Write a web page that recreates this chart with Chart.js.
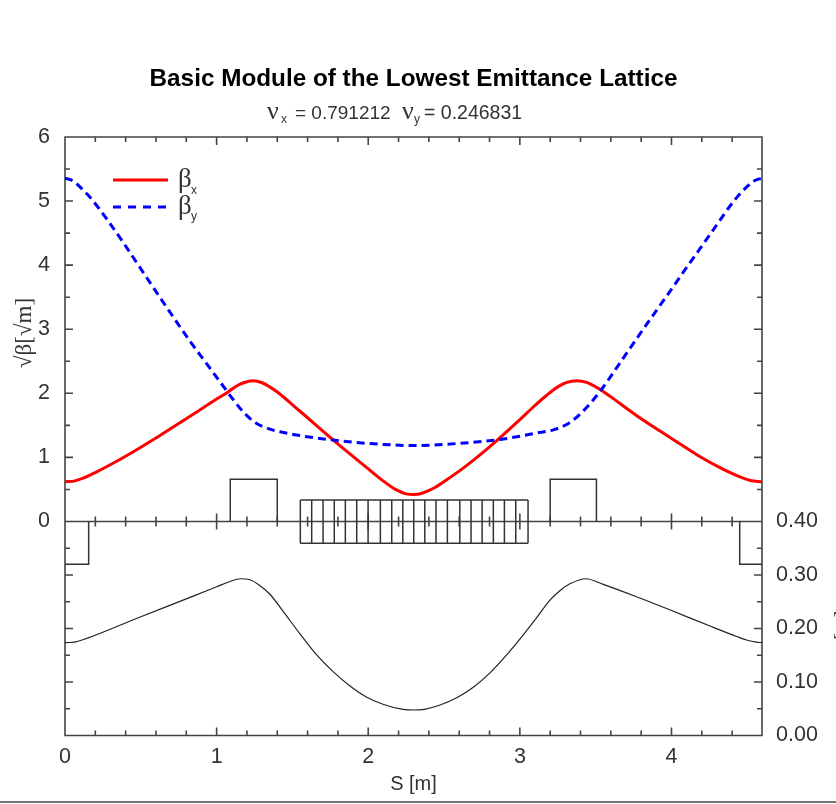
<!DOCTYPE html>
<html>
<head>
<meta charset="utf-8">
<title>Basic Module of the Lowest Emittance Lattice</title>
<script src="https://cdn.jsdelivr.net/npm/chart.js@4/dist/chart.umd.min.js"></script>
<style>
  html, body { margin: 0; padding: 0; background: #fff; }
  #wrap { width: 836px; height: 804px; }
</style>
</head>
<body>
<div id="wrap"><canvas id="latticeChart" width="836" height="804"></canvas></div>
<script>
// Curves: s in metres, sqrt(beta) in sqrt(m), eta in m
const betaXS = [0, 0.06, 0.12, 0.209, 0.341, 0.473, 0.605, 0.737, 0.869, 1.0, 1.08, 1.14, 1.2, 1.24, 1.3, 1.35, 1.4, 1.55, 1.77, 1.99, 2.1, 2.18, 2.25, 2.3, 2.36, 2.44, 2.518, 2.65, 2.825, 3.0, 3.09, 3.177, 3.25, 3.31, 3.375, 3.44, 3.5, 3.55, 3.661, 3.793, 3.925, 4.057, 4.189, 4.32, 4.452, 4.52, 4.597];
const betaXValues = [0.62, 0.63, 0.675, 0.775, 0.94, 1.12, 1.31, 1.51, 1.71, 1.91, 2.03, 2.125, 2.18, 2.195, 2.165, 2.1, 2.02, 1.72, 1.27, 0.84, 0.63, 0.5, 0.43, 0.42, 0.445, 0.53, 0.65, 0.875, 1.215, 1.59, 1.79, 1.97, 2.1, 2.17, 2.195, 2.17, 2.1, 2.03, 1.84, 1.615, 1.41, 1.21, 1.01, 0.84, 0.695, 0.64, 0.62];

const betaYS = [0, 0.04, 0.077, 0.12, 0.165, 0.275, 0.385, 0.495, 0.605, 0.714, 0.825, 0.935, 1.044, 1.11, 1.187, 1.264, 1.352, 1.418, 1.55, 1.77, 1.99, 2.298, 2.606, 2.87, 3.133, 3.221, 3.32, 3.408, 3.529, 3.639, 3.749, 3.858, 3.969, 4.078, 4.189, 4.299, 4.408, 4.496, 4.55, 4.597];
const betaYValues = [5.356, 5.33, 5.27, 5.17, 5.06, 4.72, 4.35, 3.96, 3.57, 3.19, 2.81, 2.46, 2.11, 1.9, 1.68, 1.53, 1.44, 1.4, 1.34, 1.27, 1.22, 1.185, 1.22, 1.28, 1.39, 1.43, 1.53, 1.7, 2.03, 2.4, 2.78, 3.15, 3.52, 3.89, 4.26, 4.63, 4.99, 5.22, 5.32, 5.356];

const etaS = [0, 0.07, 0.139, 0.5, 0.85, 1.0, 1.08, 1.16, 1.22, 1.28, 1.352, 1.44, 1.55, 1.66, 1.77, 1.88, 1.987, 2.097, 2.229, 2.3, 2.37, 2.474, 2.584, 2.693, 2.803, 2.913, 3.0, 3.11, 3.2, 3.27, 3.33, 3.435, 3.55, 3.8, 3.993, 4.25, 4.43, 4.5, 4.56, 4.597];
const etaValues = [0.1735, 0.175, 0.181, 0.222, 0.261, 0.278, 0.287, 0.293, 0.291, 0.2815, 0.264, 0.2314, 0.19, 0.1505, 0.119, 0.0925, 0.072, 0.0585, 0.049, 0.0477, 0.049, 0.057, 0.0705, 0.09, 0.117, 0.1505, 0.18, 0.22, 0.2535, 0.272, 0.2835, 0.293, 0.2825, 0.256, 0.2345, 0.205, 0.185, 0.178, 0.1745, 0.1735];

// Lattice elements
const bendLeftS = [1.09, 1.09, 1.40, 1.40];
const bendRightS = [3.2, 3.2, 3.505, 3.505];
const bendHeight = [0, 0.66, 0.66, 0];
const quadLeftS = [0, 0.156, 0.156];
const quadLeftHeight = [-0.668, -0.668, 0];
const quadRightS = [4.45, 4.45, 4.597];
const quadRightHeight = [0, -0.668, -0.668];
const sectorEdges = [1.552, 1.627, 1.702, 1.776, 1.849, 1.924, 1.999, 2.08, 2.155, 2.228, 2.3, 2.373, 2.447, 2.522, 2.604, 2.678, 2.751, 2.825, 2.898, 2.973, 3.054];
const sectorTop = 0.335;
const sectorBottom = -0.34;

// Axis ticks
const sMax = 4.597;
const sTicks = [0, 1, 2, 3, 4];
const sMinorTicks = [0.2, 0.4, 0.6, 0.8, 1.2, 1.4, 1.6, 1.8, 2.2, 2.4, 2.6, 2.8, 3.2, 3.4, 3.6, 3.8, 4.2, 4.4];
const betaTicks = [0, 1, 2, 3, 4, 5, 6];
const betaMinorTicks = [0.5, 1.5, 2.5, 3.5, 4.5, 5.5];
const etaTicks = [0, 0.1, 0.2, 0.3, 0.4];
const etaMinorTicks = [0.05, 0.15, 0.25, 0.35];

const AXIS_COLOR = '#444';
const TEXT_COLOR = '#333';
const SANS = '"Liberation Sans", Arial, sans-serif';
const SERIF = '"Liberation Serif", "Times New Roman", serif';

const toPoints = (xs, ys) => xs.map((x, i) => ({ x: x, y: ys[i] }));

// The sector magnet is one outline with a divider at every edge
function sectorPoints() {
    const pts = [];
    sectorEdges.forEach(function (s) {
        pts.push({ x: s, y: sectorTop }, { x: s, y: sectorBottom }, { x: s, y: null });
    });
    const first = sectorEdges[0];
    const last = sectorEdges[sectorEdges.length - 1];
    pts.push({ x: first, y: sectorTop }, { x: last, y: sectorTop }, { x: last, y: null });
    pts.push({ x: first, y: sectorBottom }, { x: last, y: sectorBottom });
    return pts;
}

function outline(points) {
    return {
        data: points,
        yAxisID: 'y',
        borderColor: '#333',
        borderWidth: 1.5,
        pointRadius: 0,
        tension: 0,
        spanGaps: false
    };
}

function drawText(c, text, x, y, font, color) {
    c.font = font;
    c.fillStyle = color || TEXT_COLOR;
    c.fillText(text, x, y);
}

// Inward tick marks on the frame and the crossing ticks on the middle axis
const latticeFrame = {
    id: 'latticeFrame',
    beforeDatasetsDraw(chart) {
        const c = chart.ctx;
        const a = chart.chartArea;
        const sx = chart.scales.x, by = chart.scales.y, ey = chart.scales.y2;
        const mid = by.getPixelForValue(0);
        c.save();
        c.strokeStyle = AXIS_COLOR;
        c.lineWidth = 1.6;
        c.beginPath();
        c.rect(a.left, a.top, a.right - a.left, a.bottom - a.top);
        c.moveTo(a.left, mid);
        c.lineTo(a.right, mid);

        const vTick = function (v, len) {
            const p = sx.getPixelForValue(v);
            c.moveTo(p, a.top); c.lineTo(p, a.top + len);
            c.moveTo(p, a.bottom); c.lineTo(p, a.bottom - len);
            c.moveTo(p, mid - len); c.lineTo(p, mid + len);
        };
        sTicks.forEach(v => vTick(v, 8));
        sMinorTicks.forEach(v => vTick(v, 5));

        const hTick = function (p, len) {
            c.moveTo(a.left, p); c.lineTo(a.left + len, p);
            c.moveTo(a.right, p); c.lineTo(a.right - len, p);
        };
        betaTicks.forEach(v => hTick(by.getPixelForValue(v), 8));
        betaMinorTicks.forEach(v => hTick(by.getPixelForValue(v), 5));
        etaTicks.forEach(v => hTick(ey.getPixelForValue(v), 8));
        etaMinorTicks.forEach(v => hTick(ey.getPixelForValue(v), 5));
        c.stroke();
        c.restore();
    },
    afterDraw(chart) {
        const c = chart.ctx;
        c.save();
        c.textBaseline = 'alphabetic';
        c.textAlign = 'left';

        // tunes under the title
        drawText(c, 'ν', 267, 119, '26px ' + SERIF);
        drawText(c, 'x', 281, 123, '12px ' + SANS);
        drawText(c, '= 0.791212', 295, 119, '19px ' + SANS);
        drawText(c, 'ν', 402, 119, '26px ' + SERIF);
        drawText(c, 'y', 414, 123, '12px ' + SANS);
        drawText(c, '= 0.246831', 424, 119, '19.5px ' + SANS);

        // legend
        c.lineWidth = 3;
        c.strokeStyle = '#ff0000';
        c.beginPath(); c.moveTo(113, 180); c.lineTo(168, 180); c.stroke();
        c.strokeStyle = '#0000ff';
        c.setLineDash([8, 7]);
        c.beginPath(); c.moveTo(113, 207); c.lineTo(168, 207); c.stroke();
        c.setLineDash([]);
        drawText(c, 'β', 178, 187, '27px ' + SERIF);
        drawText(c, 'x', 191, 194, '12px ' + SANS);
        drawText(c, 'β', 178, 214, '27px ' + SERIF);
        drawText(c, 'y', 191, 220, '12px ' + SANS);

        // left axis title, and the right one that runs off the page
        c.save();
        c.translate(31, 333);
        c.rotate(-Math.PI / 2);
        c.textAlign = 'center';
        drawText(c, '√β[√m]', 0, 0, '23px ' + SERIF);
        c.restore();
        c.save();
        c.translate(848, 633);
        c.rotate(-Math.PI / 2);
        c.textAlign = 'center';
        drawText(c, 'η [m]', 0, 0, '20px ' + SERIF);
        c.restore();

        // page rule along the bottom
        c.strokeStyle = AXIS_COLOR;
        c.lineWidth = 1.5;
        c.beginPath(); c.moveTo(0, 802); c.lineTo(836, 802); c.stroke();
        c.restore();
    }
};

const ctx = document.getElementById('latticeChart').getContext('2d');

const latticeChart = new Chart(ctx, {
    type: 'line',
    data: {
        datasets: [
            outline(toPoints(bendLeftS, bendHeight)),
            outline(toPoints(bendRightS, bendHeight)),
            outline(toPoints(quadLeftS, quadLeftHeight)),
            outline(toPoints(quadRightS, quadRightHeight)),
            outline(sectorPoints()),
            {
                label: 'eta',
                data: toPoints(etaS, etaValues),
                yAxisID: 'y2',
                borderColor: '#222',
                borderWidth: 1.2,
                pointRadius: 0,
                cubicInterpolationMode: 'monotone'
            },
            {
                label: 'βy',
                data: toPoints(betaYS, betaYValues),
                yAxisID: 'y',
                borderColor: '#0000ff',
                borderWidth: 3,
                borderDash: [8, 5],
                pointRadius: 0,
                cubicInterpolationMode: 'monotone'
            },
            {
                label: 'βx',
                data: toPoints(betaXS, betaXValues),
                yAxisID: 'y',
                borderColor: '#ff0000',
                borderWidth: 3,
                pointRadius: 0,
                cubicInterpolationMode: 'monotone'
            }
        ]
    },
    options: {
        responsive: false,
        animation: false,
        layout: { padding: 0 },
        plugins: {
            legend: { display: false },
            tooltip: { enabled: false },
            title: {
                display: true,
                text: 'Basic Module of the Lowest Emittance Lattice',
                fullSize: false,
                color: '#000',
                font: { family: SANS, size: 24.3, weight: 'bold', lineHeight: 1.2 },
                padding: { top: 65, bottom: 42.8 }
            }
        },
        scales: {
            x: {
                type: 'linear',
                min: 0,
                max: sMax,
                afterBuildTicks: scale => { scale.ticks = sTicks.map(v => ({ value: v })); },
                afterFit: scale => { scale.height = 68.5; },
                grid: { display: false },
                border: { display: false },
                ticks: { color: TEXT_COLOR, font: { family: SANS, size: 21.5 }, padding: 1, maxRotation: 0, autoSkip: false, callback: v => String(v) },
                title: { display: true, text: 'S [m]', color: TEXT_COLOR, font: { family: SANS, size: 20 }, padding: { top: 0, bottom: 8 } }
            },
            y: {
                position: 'left',
                min: -3.3396,
                max: 6,
                afterBuildTicks: scale => { scale.ticks = betaTicks.map(v => ({ value: v })); },
                afterFit: scale => { scale.width = 65; },
                grid: { display: false },
                border: { display: false },
                ticks: { color: TEXT_COLOR, font: { family: SANS, size: 21.5 }, padding: 7, autoSkip: false, callback: v => String(v) }
            },
            y2: {
                position: 'right',
                min: 0,
                max: 1.1187,
                afterBuildTicks: scale => { scale.ticks = etaTicks.map(v => ({ value: v })); },
                afterFit: scale => { scale.width = 74; },
                grid: { display: false },
                border: { display: false },
                ticks: { color: TEXT_COLOR, font: { family: SANS, size: 21.5 }, padding: 6, autoSkip: false, callback: v => v.toFixed(2) }
            }
        }
    },
    plugins: [latticeFrame]
});
</script>
</body>
</html>
